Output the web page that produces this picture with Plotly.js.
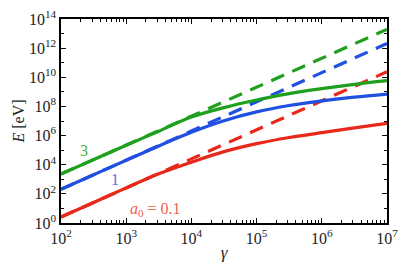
<!DOCTYPE html>
<html>
<head>
<meta charset="utf-8">
<script src="https://cdn.plot.ly/plotly-3.0.1.min.js"></script>
<style>html,body{margin:0;padding:0;background:#fff;}#chart{width:407px;height:271px;}</style>
</head>
<body>
<div id="chart"></div>
<script>
// Lorentz factor gamma (x)
const gamma = [1e2, 3.16e2, 1e3, 3.16e3, 1e4, 3.16e4, 1e5, 3.16e5, 1e6, 3.16e6, 1e7];
// Solid curves: E [eV]
const E_a01 = [2.57, 25.7, 257, 2.4e3, 1.5e4, 7.9e4, 2.8e5, 7.4e5, 1.58e6, 3.4e6, 6.9e6];
const E_a1  = [204, 2.04e3, 2.04e4, 1.95e5, 1.7e6, 1.05e7, 4.2e7, 1.15e8, 2.4e8, 4.4e8, 7.1e8];
const E_a3  = [2.3e3, 2.24e4, 2.14e5, 2.0e6, 1.85e7, 8.3e7, 2.75e8, 7.6e8, 1.66e9, 3.3e9, 5.9e9];
// Dashed asymptotes (end points)
const gammaDash = [1e2, 1e7];
const Ed_a01 = [2.57, 2.4e10];
const Ed_a1  = [204, 2.1e12];
const Ed_a3  = [2.3e3, 1.95e13];
// Tick labels
const xTickVals = [1e2, 1e3, 1e4, 1e5, 1e6, 1e7];
const xTickText = ['10<sup>2</sup>', '10<sup>3</sup>', '10<sup>4</sup>', '10<sup>5</sup>', '10<sup>6</sup>', '10<sup>7</sup>'];
const yTickVals = [1, 1e2, 1e4, 1e6, 1e8, 1e10, 1e12, 1e14];
const yTickText = ['10<sup>0</sup>', '10<sup>2</sup>', '10<sup>4</sup>', '10<sup>6</sup>', '10<sup>8</sup>', '10<sup>10</sup>', '10<sup>12</sup>', '10<sup>14</sup>'];
// Curve labels
const labelText = ['<i>a</i><sub>0</sub> = 0.1', '1', '3'];
const labelX = [2.8e3, 6.8e2, 2.26e2];
const labelY = [9, 9e2, 9e4];

const RED = '#e8281a', BLUE = '#2050e0', GREEN = '#1ea01e';
const LRED = '#f0604e', LBLUE = '#5a72de', LGREEN = '#3cb43c';
const SERIF = 'Times New Roman, Liberation Serif, serif';

function solid(y, c){ return {x: gamma, y: y, mode:'lines', line:{color:c, width:3.2, shape:'spline', smoothing:1}, hoverinfo:'skip'}; }
function dashed(y, c){ return {x: gammaDash, y: y, mode:'lines', line:{color:c, width:3.2, dash:'14px,9px'}, hoverinfo:'skip'}; }

const traces = [
  solid(E_a01, RED), dashed(Ed_a01, RED),
  solid(E_a1, BLUE), dashed(Ed_a1, BLUE),
  solid(E_a3, GREEN), dashed(Ed_a3, GREEN)
];

const tickFont = {family:SERIF, size:16, color:'#222'};
const layout = {
  width:407, height:271,
  margin:{l:61, r:20, t:19, b:48},
  paper_bgcolor:'#fff', plot_bgcolor:'#fff',
  font:{family:SERIF, color:'#222'},
  showlegend:false,
  xaxis:{type:'log', range:[2,7], tickmode:'array', tickvals:xTickVals, ticktext:xTickText,
    ticks:'inside', ticklen:5, tickwidth:1.2, tickcolor:'#000',
    minor:{ticks:'inside', ticklen:3, tickwidth:1, tickcolor:'#000', dtick:'D1'},
    showline:true, linecolor:'#000', linewidth:1.6, mirror:'ticks', showgrid:false, zeroline:false,
    tickfont:tickFont,
    title:{text:'<i>γ</i>', font:{family:SERIF, size:17, color:'#222'}, standoff:0}},
  yaxis:{type:'log', range:[0,14], tickmode:'array', tickvals:yTickVals, ticktext:yTickText,
    ticks:'inside', ticklen:5, tickwidth:1.2, tickcolor:'#000',
    minor:{ticks:'inside', ticklen:3, tickwidth:1, tickcolor:'#000', dtick:1},
    showline:true, linecolor:'#000', linewidth:1.6, mirror:'ticks', showgrid:false, zeroline:false,
    tickfont:tickFont,
    title:{text:'<i>E</i> [eV]', font:{family:SERIF, size:16, color:'#222'}, standoff:0}},
  annotations:[0,1,2].map(i => ({
    x:Math.log10(labelX[i]), y:Math.log10(labelY[i]), xref:'x', yref:'y', text:labelText[i], showarrow:false,
    font:{family:SERIF, size:16, color:[LRED, LBLUE, LGREEN][i]}
  }))
};
Plotly.newPlot('chart', traces, layout, {staticPlot:true, displayModeBar:false});
</script>
</body>
</html>
